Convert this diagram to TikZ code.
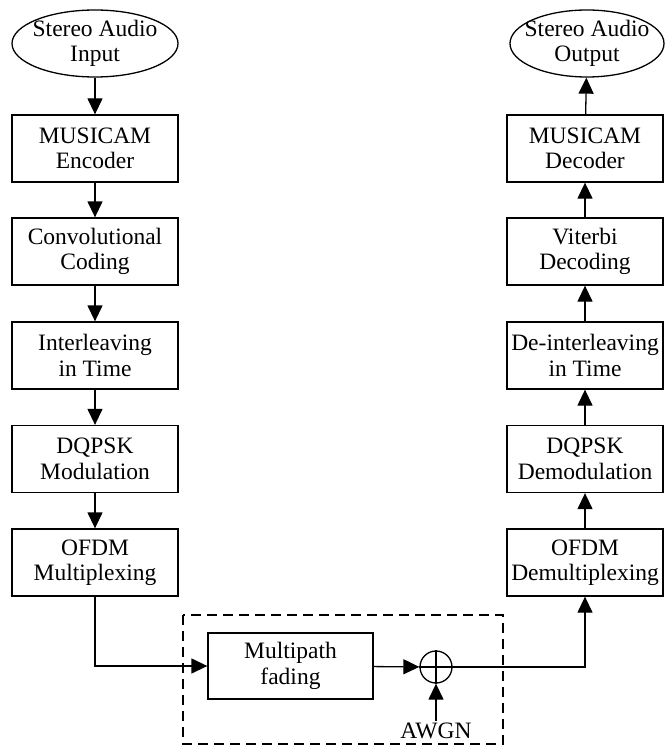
\documentclass[tikz,border=0pt]{standalone}
\usepackage{fontspec}
\setmainfont{Liberation Serif}
\usetikzlibrary{arrows.meta,shapes.geometric}

\tikzset{
    blk/.style={draw, line width=1.3pt, minimum height=67pt, inner sep=0pt,
        align=center, font=\fontsize{23.5}{25.5}\selectfont},
    lblk/.style={blk, minimum width=166pt},
    rblk/.style={blk, minimum width=156pt},
    io/.style={blk, ellipse, inner ysep=-2pt},
    flow/.style={line width=1.3pt, -{Triangle[length=16pt,width=15pt]}},
}

\begin{document}
\begin{tikzpicture}[x=1pt, y=1pt]
    \useasboundingbox (0,0) rectangle (664,-746);

    % transmitter
    \node[io, minimum width=166pt, inner xsep=-8pt] (in) at (95,-43.5) {Stereo Audio\\Input};
    \node[lblk] (enc) at (95,-148.5) {MUSICAM\\Encoder};
    \node[lblk] (conv) at (95,-251.5) {Convolutional\\Coding};
    \node[lblk] (intl) at (95,-355.5) {Interleaving\\in Time};
    \node[lblk] (mod) at (95,-459) {DQPSK\\Modulation};
    \node[lblk] (mux) at (95,-562.5) {OFDM\\Multiplexing};

    \draw[flow] (in) -- (enc);
    \draw[flow] (enc) -- (conv);
    \draw[flow] (conv) -- (intl);
    \draw[flow] (intl) -- (mod);
    \draw[flow] (mod) -- (mux);

    % channel
    \draw[line width=1.3pt, dash pattern=on 10pt off 6pt] (183,-615) rectangle (503,-744);
    \node[blk, minimum width=165pt, minimum height=66pt] (fade) at (290.5,-666) {Multipath\\fading};
    \node[draw, circle, line width=1.3pt, minimum size=32pt, inner sep=0pt] (sum) at (436,-667) {};
    \draw[line width=1.3pt] (sum.north) -- (sum.south) (sum.west) -- (sum.east);
    \node[font=\fontsize{23.5}{25.5}\selectfont, inner sep=2pt] (awgn) at (436,-731) {AWGN};

    \draw[flow] (mux.south) |- (fade.west);
    \draw[flow] (fade) -- (sum);
    \draw[flow] (awgn) -- (sum);

    % receiver
    \node[rblk] (demux) at (585,-562.5) {OFDM\\Demultiplexing};
    \node[rblk] (demod) at (585,-459) {DQPSK\\Demodulation};
    \node[rblk] (dintl) at (585,-355.5) {De-interleaving\\in Time};
    \node[rblk] (vit) at (585,-251.5) {Viterbi\\Decoding};
    \node[rblk] (dec) at (585,-148.5) {MUSICAM\\Decoder};
    \node[io, minimum width=154pt, inner xsep=-12pt] (out) at (587,-43.5) {Stereo Audio\\Output};

    \draw[flow] (sum.east) -| (demux.south);
    \draw[flow] (demux) -- (demod);
    \draw[flow] (demod) -- (dintl);
    \draw[flow] (dintl) -- (vit);
    \draw[flow] (vit) -- (dec);
    \draw[flow] (dec) -- (out);
\end{tikzpicture}
\end{document}
